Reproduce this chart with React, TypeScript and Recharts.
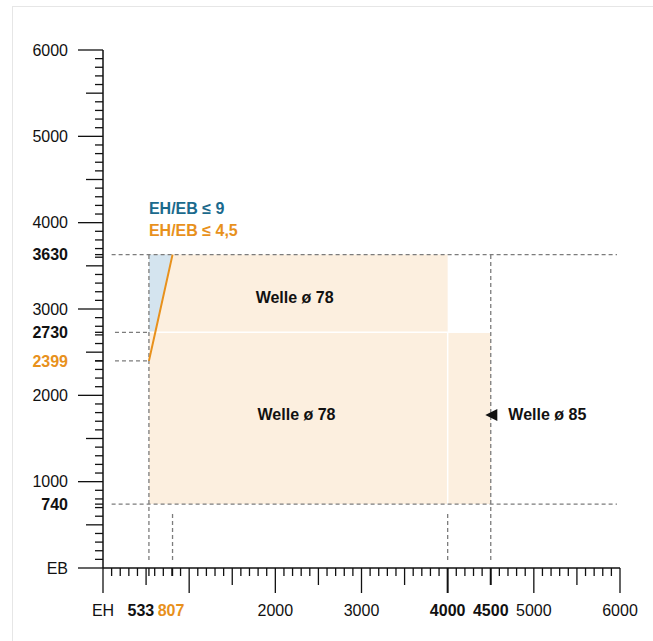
import { ComposedChart, XAxis, YAxis, Area, Line, ReferenceArea, ReferenceLine, ReferenceDot } from "recharts";

// EH/EB ratio limits at the small-EH end
const EH_POINTS = [533, 607, 807];
const LIMIT_45 = [2399, 2730, 3630];
const LIMIT_9_LOW = [2730, 2730, 3630];
const LIMIT_9_HIGH = [3630, 3630, 3630];

// working fields (EH from/to, EB from/to)
const FIELD_X1 = [533, 533, 4000];
const FIELD_X2 = [4000, 4000, 4500];
const FIELD_Y1 = [2730, 740, 740];
const FIELD_Y2 = [3630, 2730, 2730];

// dashed guides
const GUIDE_H_Y = [3630, 740, 2730, 2399];
const GUIDE_H_X1 = [100, 100, 139, 139];
const GUIDE_H_X2 = [5965, 5965, 533, 533];
const GUIDE_V_X = [533, 807, 4000, 4500];
const GUIDE_V_Y1 = [93, 93, 93, 93];
const GUIDE_V_Y2 = [3630, 652, 652, 3630];

// white separators between fields
const SEP_X1 = [533, 4000];
const SEP_X2 = [4500, 4000];
const SEP_Y1 = [2730, 740];
const SEP_Y2 = [2730, 2730];

const X_LABEL_VALUES = [0, 533, 807, 2000, 3000, 4000, 4500, 5000, 6000];
const X_LABEL_TEXT = ["EH", "533", "807", "2000", "3000", "4000", "4500", "5000", "6000"];
const X_BOLD = [533, 807, 4000, 4500];
const X_ORANGE = [807];
const Y_LABEL_VALUES = [0, 740, 1000, 2000, 2399, 2730, 3000, 3630, 4000, 5000, 6000];
const Y_LABEL_TEXT = ["EB", "740", "1000", "2000", "2399", "2730", "3000", "3630", "4000", "5000", "6000"];
const Y_BOLD = [740, 2399, 2730, 3630];
const Y_ORANGE = [2399];

const NOTE_X = [533, 533, 2224, 2246, 4704];
const NOTE_Y = [4100, 3849, 3071, 1714, 1714];
const NOTE_TEXT = ["EH/EB ≤ 9", "EH/EB ≤ 4,5", "Welle ø 78", "Welle ø 78", "Welle ø 85"];

const ORANGE = "#e8911c";
const TEAL = "#1b6a8d";
const PEACH = "#fcefdf";
const BLUE = "#d4e4ef";
const DASH = "#7c7c7c";
const FONT = "'Liberation Sans', Arial, sans-serif";

const data = EH_POINTS.map((x, i) => ({
  x,
  limit45: LIMIT_45[i],
  limit9: [LIMIT_9_LOW[i], LIMIT_9_HIGH[i]],
}));

const minorTicks: number[] = [];
for (let v = 0; v <= 6000; v += 100) minorTicks.push(v);
const xTicks = [...minorTicks, 533, 807].sort((a, b) => a - b);
const yTicks = [...minorTicks, 740, 2399, 2730, 3630].sort((a, b) => a - b);

function tickLen(v: number) {
  if (v % 1000 === 0) return 25;
  if (v % 500 === 0) return 17;
  return 8;
}

function YTick(props: any) {
  const { x, y, payload } = props;
  const v = payload.value;
  const idx = Y_LABEL_VALUES.indexOf(v);
  return (
    <g>
      <line x1={x - tickLen(v)} x2={x} y1={y} y2={y} stroke="#111" strokeWidth={1.3} />
      {idx >= 0 && (
        <text
          x={x - 35}
          y={y}
          dy="0.36em"
          textAnchor="end"
          fontFamily={FONT}
          fontSize={16}
          fontWeight={Y_BOLD.includes(v) ? "bold" : "normal"}
          fill={Y_ORANGE.includes(v) ? ORANGE : "#111"}
        >
          {Y_LABEL_TEXT[idx]}
        </text>
      )}
    </g>
  );
}

function XTick(props: any) {
  const { x, y, payload } = props;
  const v = payload.value;
  const idx = X_LABEL_VALUES.indexOf(v);
  const thick = v === 4000 || v === 4500;
  const dx = v === 533 ? -8 : v === 807 ? -1.5 : 0;
  return (
    <g>
      <line x1={x} x2={x} y1={y} y2={y + tickLen(v)} stroke="#111" strokeWidth={thick ? 2 : 1.3} />
      {idx >= 0 && (
        <text
          x={x + dx}
          y={y + 48}
          textAnchor="middle"
          fontFamily={FONT}
          fontSize={16}
          fontWeight={X_BOLD.includes(v) ? "bold" : "normal"}
          fill={X_ORANGE.includes(v) ? ORANGE : "#111"}
        >
          {X_LABEL_TEXT[idx]}
        </text>
      )}
    </g>
  );
}

function Note(props: any) {
  const { cx, cy, i } = props;
  const text = NOTE_TEXT[i];
  const color = i === 0 ? TEAL : i === 1 ? ORANGE : "#111";
  const anchor = i === 2 || i === 3 ? "middle" : "start";
  return (
    <g>
      {i === 4 && <polygon points={`${cx - 23},${cy - 5} ${cx - 11},${cy - 11} ${cx - 11},${cy + 1}`} fill="#111" />}
      <text x={cx} y={cy} textAnchor={anchor} fontFamily={FONT} fontSize={16} fontWeight="bold" fill={color}>
        {text}
      </text>
    </g>
  );
}

export default function App() {
  return (
    <div style={{ position: "absolute", left: 0, top: 0, width: 653, height: 641, background: "#fff" }}>
      <div
        style={{
          position: "absolute",
          left: 12,
          top: 6,
          right: 0,
          bottom: 0,
          borderTop: "1.5px solid #e6e6e6",
          borderLeft: "1.5px solid #e6e6e6",
        }}
      />
      <div style={{ position: "absolute", left: 0, top: 0 }}>
        <ComposedChart width={653} height={641} data={data} margin={{ top: 50, right: 33, bottom: 23, left: 23 }}>
          <XAxis
            dataKey="x"
            type="number"
            domain={[0, 6000]}
            ticks={xTicks}
            interval={0}
            tickLine={false}
            tickSize={0}
            tickMargin={0}
            height={50}
            axisLine={{ stroke: "#111", strokeWidth: 1.5 }}
            tick={<XTick />}
            allowDataOverflow
          />
          <YAxis
            type="number"
            domain={[0, 6000]}
            ticks={yTicks}
            interval={0}
            tickLine={false}
            tickSize={0}
            tickMargin={0}
            width={80}
            axisLine={{ stroke: "#111", strokeWidth: 1.5 }}
            tick={<YTick />}
            allowDataOverflow
          />
          {FIELD_X1.map((x1, i) => (
            <ReferenceArea
              key={`f${i}`}
              x1={x1}
              x2={FIELD_X2[i]}
              y1={FIELD_Y1[i]}
              y2={FIELD_Y2[i]}
              fill={PEACH}
              fillOpacity={1}
              stroke="none"
            />
          ))}
          <Area
            dataKey="limit9"
            type="linear"
            fill={BLUE}
            fillOpacity={1}
            stroke="none"
            isAnimationActive={false}
            dot={false}
            activeDot={false}
          />
          {SEP_X1.map((x1, i) => (
            <ReferenceLine
              key={`s${i}`}
              segment={[
                { x: x1, y: SEP_Y1[i] },
                { x: SEP_X2[i], y: SEP_Y2[i] },
              ]}
              stroke="#fff"
              strokeWidth={1.5}
            />
          ))}
          {GUIDE_H_Y.map((y, i) => (
            <ReferenceLine
              key={`h${i}`}
              segment={[
                { x: GUIDE_H_X1[i], y },
                { x: GUIDE_H_X2[i], y },
              ]}
              stroke={DASH}
              strokeWidth={1.3}
              strokeDasharray="4 3"
            />
          ))}
          {GUIDE_V_X.map((x, i) => (
            <ReferenceLine
              key={`v${i}`}
              segment={[
                { x, y: GUIDE_V_Y1[i] },
                { x, y: GUIDE_V_Y2[i] },
              ]}
              stroke={DASH}
              strokeWidth={1.3}
              strokeDasharray="4 3"
            />
          ))}
          <Line
            dataKey="limit45"
            type="linear"
            stroke={ORANGE}
            strokeWidth={2}
            dot={false}
            activeDot={false}
            isAnimationActive={false}
          />
          {NOTE_X.map((x, i) => (
            <ReferenceDot key={`n${i}`} x={x} y={NOTE_Y[i]} r={0} shape={(p: any) => <Note {...p} i={i} />} />
          ))}
        </ComposedChart>
      </div>
    </div>
  );
}
